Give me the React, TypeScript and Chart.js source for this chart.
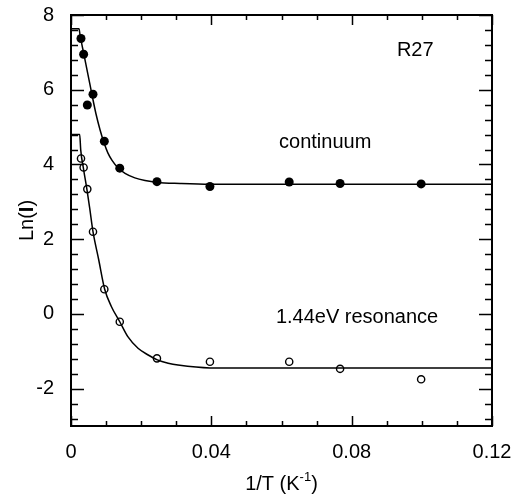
import React, { useEffect, useRef } from "react";
import { Chart, registerables } from "chart.js";

Chart.register(...registerables);

// ---- data ----
const invT = [0.00285, 0.0036, 0.00465, 0.00627, 0.0095, 0.0139, 0.0245, 0.0396, 0.0622, 0.0767, 0.0998];
const continuumLnI = [7.37, 6.95, 5.59, 5.88, 4.62, 3.9, 3.54, 3.41, 3.53, 3.49, 3.48];
const resonanceLnI = [4.16, 3.92, 3.34, 2.2, 0.66, -0.21, -1.19, -1.28, -1.28, -1.47, -1.75];

const contFitX = [0, 0.00228, 0.00257, 0.00371, 0.00485, 0.00599, 0.00713, 0.00827, 0.00941, 0.0105, 0.0117, 0.0134, 0.0154, 0.0182, 0.0211, 0.0245, 0.0311, 0.0396, 0.12];
const contFitY = [7.63, 7.63, 7.47, 6.93, 6.4, 5.86, 5.35, 4.93, 4.58, 4.31, 4.11, 3.91, 3.76, 3.64, 3.57, 3.52, 3.49, 3.47, 3.47];

const resFitX = [0, 0.00248, 0.00277, 0.00362, 0.00456, 0.00533, 0.00627, 0.0079, 0.0096, 0.0115, 0.0139, 0.0162, 0.0191, 0.022, 0.0246, 0.0277, 0.0305, 0.0396, 0.12];
const resFitY = [4.8, 4.8, 4.39, 3.85, 3.32, 2.83, 2.2, 1.45, 0.66, 0.2, -0.21, -0.61, -0.92, -1.1, -1.23, -1.32, -1.37, -1.445, -1.445];

const xMajorTicks = [0, 0.04, 0.08, 0.12];
const yMajorTicks = [-2, 0, 2, 4, 6, 8];
const xMinorStep = 0.01;
const yMinorStep = 0.4;

const annotations = [
  { text: "R27", x: 0.0929, y: 6.9 },
  { text: "continuum", x: 0.0593, y: 4.44 },
  { text: "1.44eV resonance", x: 0.0584, y: -0.24 },
];

const FONT = '"Liberation Sans", Arial, Helvetica, sans-serif';

const pairs = (xs: number[], ys: number[]) => xs.map((x, i) => ({ x, y: ys[i] }));

const framePlugin = {
  id: "frame",
  afterDraw(chart: any) {
    const { ctx, chartArea: a, scales } = chart;
    const xs = scales.x;
    const ys = scales.y;
    ctx.save();
    ctx.strokeStyle = "#000";
    // frame
    ctx.lineWidth = 2;
    ctx.strokeRect(a.left, a.top, a.right - a.left, a.bottom - a.top);
    // ticks
    ctx.lineWidth = 1.5;
    ctx.beginPath();
    const nX = Math.round((xs.max - xs.min) / xMinorStep);
    for (let i = 0; i <= nX; i++) {
      const v = xs.min + i * xMinorStep;
      const major = xMajorTicks.some((t) => Math.abs(t - v) < 1e-9);
      const len = major ? 10 : 5;
      const px = Math.round(xs.getPixelForValue(v)) + 0.5;
      ctx.moveTo(px, a.bottom);
      ctx.lineTo(px, a.bottom - len);
      ctx.moveTo(px, a.top);
      ctx.lineTo(px, a.top + len);
    }
    const yStart = -2.8;
    const nY = Math.round((ys.max - yStart) / yMinorStep);
    for (let i = 0; i <= nY; i++) {
      const v = yStart + i * yMinorStep;
      const major = yMajorTicks.some((t) => Math.abs(t - v) < 1e-6);
      const len = major ? 13 : 7;
      const py = Math.round(ys.getPixelForValue(v)) + 0.5;
      ctx.moveTo(a.left, py);
      ctx.lineTo(a.left + len, py);
      ctx.moveTo(a.right, py);
      ctx.lineTo(a.right - len, py);
    }
    ctx.stroke();

    // annotations
    ctx.fillStyle = "#000";
    ctx.font = `20px ${FONT}`;
    ctx.textBaseline = "alphabetic";
    ctx.textAlign = "left";
    for (const an of annotations) {
      ctx.fillText(an.text, xs.getPixelForValue(an.x), ys.getPixelForValue(an.y));
    }

    // x title: 1/T (K^-1)
    const cx = (a.left + a.right) / 2;
    const base = 490;
    const p1 = "1/T (K";
    const sup = "-1";
    const p3 = ")";
    ctx.font = `20px ${FONT}`;
    const w1 = ctx.measureText(p1).width;
    const w3 = ctx.measureText(p3).width;
    ctx.font = `13px ${FONT}`;
    const w2 = ctx.measureText(sup).width;
    let sx = cx - (w1 + w2 + w3) / 2;
    ctx.font = `20px ${FONT}`;
    ctx.fillText(p1, sx, base);
    sx += w1;
    ctx.font = `13px ${FONT}`;
    ctx.fillText(sup, sx, base - 9);
    sx += w2;
    ctx.font = `20px ${FONT}`;
    ctx.fillText(p3, sx, base);

    // y title: Ln(I)
    ctx.translate(33, (a.top + a.bottom) / 2);
    ctx.rotate(-Math.PI / 2);
    const q1 = "Ln(";
    const q2 = "I";
    const q3 = ")";
    ctx.font = `20px ${FONT}`;
    const v1 = ctx.measureText(q1).width;
    const v3 = ctx.measureText(q3).width;
    ctx.font = `bold 20px ${FONT}`;
    const v2 = ctx.measureText(q2).width;
    let tx = -(v1 + v2 + v3) / 2;
    ctx.font = `20px ${FONT}`;
    ctx.fillText(q1, tx, 0);
    tx += v1;
    ctx.font = `bold 20px ${FONT}`;
    ctx.fillText(q2, tx, 0);
    tx += v2;
    ctx.font = `20px ${FONT}`;
    ctx.fillText(q3, tx, 0);
    ctx.restore();
  },
};

export default function App() {
  const ref = useRef<HTMLCanvasElement>(null);
  useEffect(() => {
    if (!ref.current) return;
    const chart = new Chart(ref.current, {
      type: "scatter",
      data: {
        datasets: [
          {
            type: "line",
            data: pairs(contFitX, contFitY),
            borderColor: "#000",
            borderWidth: 1.5,
            pointRadius: 0,
            cubicInterpolationMode: "monotone",
            fill: false,
          },
          {
            type: "line",
            data: pairs(resFitX, resFitY),
            borderColor: "#000",
            borderWidth: 1.5,
            pointRadius: 0,
            cubicInterpolationMode: "monotone",
            fill: false,
          },
          {
            data: pairs(invT, continuumLnI),
            pointRadius: 4.5,
            pointBackgroundColor: "#000",
            pointBorderColor: "#000",
            pointBorderWidth: 0,
          },
          {
            data: pairs(invT, resonanceLnI),
            pointRadius: 3.6,
            pointBackgroundColor: "rgba(255,255,255,0)",
            pointBorderColor: "#000",
            pointBorderWidth: 1.4,
          },
        ],
      } as any,
      options: {
        responsive: false,
        animation: false,
        events: [],
        layout: { padding: { top: 15, right: 21, left: 0, bottom: 0 } },
        plugins: { legend: { display: false }, tooltip: { enabled: false } },
        scales: {
          x: {
            type: "linear",
            min: 0,
            max: 0.12,
            grid: { display: false },
            border: { display: false },
            afterFit: (s: any) => {
              s.height = 69;
              s.paddingLeft = 0;
              s.paddingRight = 0;
            },
            afterBuildTicks: (s: any) => {
              s.ticks = xMajorTicks.map((v) => ({ value: v }));
            },
            ticks: {
              color: "#000",
              font: { size: 20, family: FONT },
              padding: 6,
              maxRotation: 0,
              callback: (v: any) => (v === 0 ? "0" : Number(v).toFixed(2)),
            },
          },
          y: {
            type: "linear",
            min: -3,
            max: 8,
            grid: { display: false },
            border: { display: false },
            afterFit: (s: any) => {
              s.width = 71;
              s.paddingTop = 0;
              s.paddingBottom = 0;
            },
            afterBuildTicks: (s: any) => {
              s.ticks = yMajorTicks.map((v) => ({ value: v }));
            },
            ticks: {
              color: "#000",
              font: { size: 20, family: FONT },
              padding: 9,
              callback: (v: any) => String(v),
            },
          },
        },
      } as any,
      plugins: [framePlugin],
    });
    return () => chart.destroy();
  }, []);
  return (
    <div style={{ position: "absolute", left: 0, top: 0, width: 513, height: 495, background: "#fff" }}>
      <canvas ref={ref} width={513} height={495} />
    </div>
  );
}
